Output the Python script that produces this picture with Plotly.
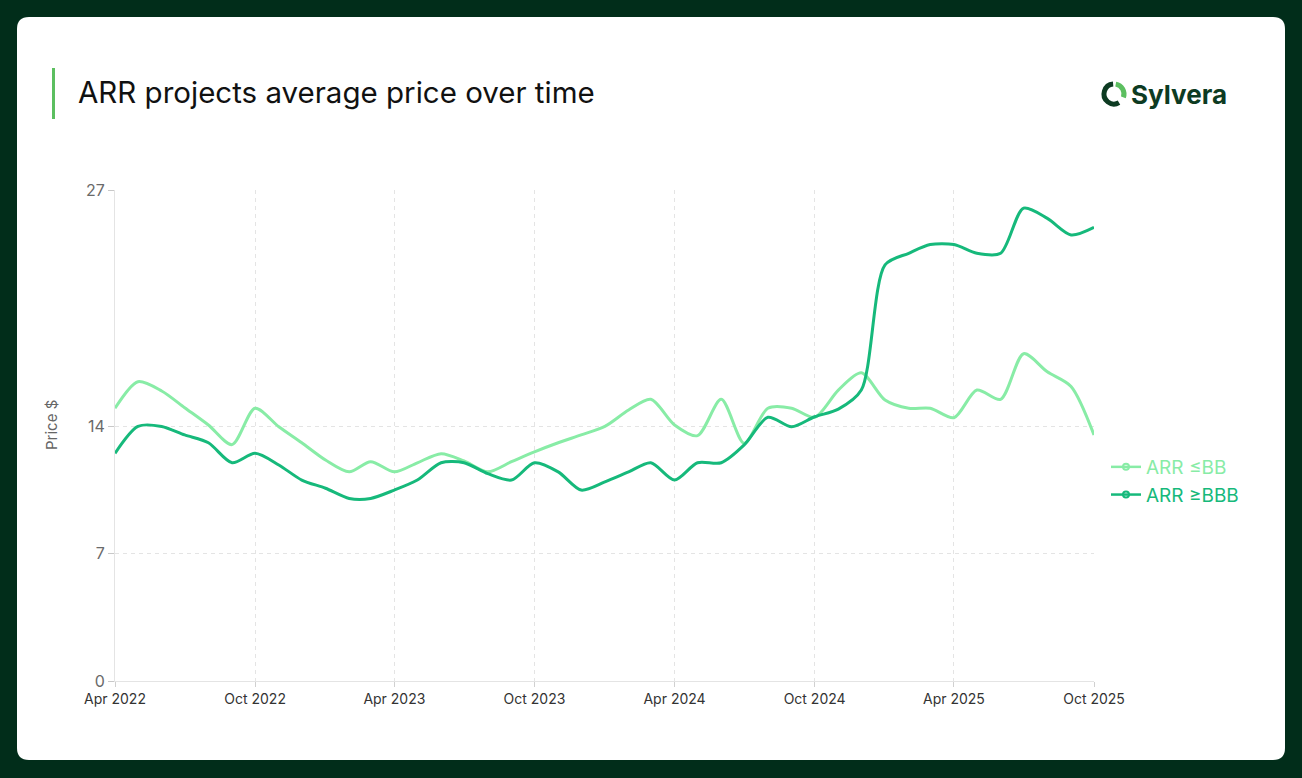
import math
import pandas as pd
import plotly.graph_objects as go

# ---------------- data ----------------
months = pd.date_range("2022-04-01", periods=43, freq="MS")

arr_bb = [15.0, 16.46, 15.95, 15.03, 14.08, 13.0, 15.0, 13.98, 13.1, 12.15,
          11.5, 12.06, 11.5, 12.0, 12.5, 12.1, 11.5, 12.06, 12.6, 13.1,
          13.53, 14.0, 14.9, 15.49, 14.08, 13.49, 15.49, 13.07, 15.0, 15.0,
          14.5, 16.0, 16.95, 15.45, 15.0, 15.0, 14.48, 16.0, 15.49, 18.0,
          17.0, 16.2, 13.53]

arr_bbb = [12.52, 14.0, 14.0, 13.53, 13.1, 12.0, 12.52, 11.88, 11.05, 10.6,
           10.04, 10.04, 10.5, 11.05, 12.0, 12.0, 11.4, 11.05, 12.0, 11.5,
           10.5, 10.95, 11.5, 12.0, 11.05, 12.0, 12.0, 12.98, 14.5, 13.98,
           14.53, 14.95, 16.0, 22.88, 23.52, 24.0, 24.0, 23.52, 23.52, 26.0,
           25.44, 24.53, 24.95]

series_names = ["ARR ≤BB", "ARR ≥BBB"]
series_colors = ["#88eca6", "#16b97b"]
y_ticks = [0, 7, 14, 27]

# ---------------- layout geometry ----------------
W, H = 1302, 778
L, R, T, B = 115, 1094, 190, 681
PW, PH = R - L, B - T


def px(x):
    return (x - L) / PW


def py(y):
    return (B - y) / PH


fig = go.Figure()

for name, vals, col in zip(series_names, [arr_bb, arr_bbb], series_colors):
    fig.add_trace(go.Scatter(
        x=months, y=vals, mode="lines", name=name, showlegend=False,
        line=dict(color=col, width=3, shape="spline", smoothing=0.8),
        hoverinfo="skip"))
    fig.add_trace(go.Scatter(
        x=[None], y=[None], mode="lines+markers",
        name=f'<span style="color:{col}">{name}</span>',
        line=dict(color=col, width=2.5),
        marker=dict(symbol="circle-open", size=6, color=col, line=dict(width=2))))

# ---------------- card background ----------------
cx0, cx1, cy0, cy1, rad = 17, 1285, 17, 760, 12
rx, ry = rad / PW, rad / PH
X0, X1, Y0, Y1 = px(cx0), px(cx1), py(cy1), py(cy0)
card_path = (f"M {X0+rx} {Y0} L {X1-rx} {Y0} Q {X1} {Y0} {X1} {Y0+ry} "
             f"L {X1} {Y1-ry} Q {X1} {Y1} {X1-rx} {Y1} "
             f"L {X0+rx} {Y1} Q {X0} {Y1} {X0} {Y1-ry} "
             f"L {X0} {Y0+ry} Q {X0} {Y0} {X0+rx} {Y0} Z")

shapes = [dict(type="path", xref="paper", yref="paper", path=card_path,
               fillcolor="white", line=dict(width=0), layer="below")]

# title accent bar
shapes.append(dict(type="line", xref="paper", yref="paper",
                   x0=px(53.5), x1=px(53.5), y0=py(68), y1=py(119),
                   line=dict(color="#5cbf60", width=3)))


# logo icon arcs (pixel coords, y pointing down)
def arc_path(r, a0, a1):
    a0r, a1r = math.radians(a0), math.radians(a1)
    n = max(1, int(math.ceil(abs(a1 - a0) / 90)))
    step = (a1r - a0r) / n
    k = 4 / 3 * math.tan(step / 4)
    p = f"M {r*math.cos(a0r):.3f} {r*math.sin(a0r):.3f}"
    a = a0r
    for _ in range(n):
        b = a + step
        c1 = (r*math.cos(a) - k*r*math.sin(a), r*math.sin(a) + k*r*math.cos(a))
        c2 = (r*math.cos(b) + k*r*math.sin(b), r*math.sin(b) - k*r*math.cos(b))
        p += (f" C {c1[0]:.3f} {c1[1]:.3f} {c2[0]:.3f} {c2[1]:.3f} "
              f"{r*math.cos(b):.3f} {r*math.sin(b):.3f}")
        a = b
    return p


icon_cx, icon_cy = 1114, 94
for a0, a1, col in [(-60, -265, "#0d3b22"), (-20, 80, "#5cbf60")]:
    shapes.append(dict(type="path", xref="paper", yref="paper",
                       xsizemode="pixel", ysizemode="pixel",
                       xanchor=px(icon_cx), yanchor=py(icon_cy),
                       path=arc_path(10, a0, a1),
                       line=dict(color=col, width=5)))

annotations = [
    dict(text="ARR projects average price over time", x=px(76), y=py(92),
         xref="paper", yref="paper", xanchor="left", yanchor="middle",
         showarrow=False, font=dict(family="Inter", size=29.5, color="#111111")),
    dict(text="<b>Sylvera</b>", x=px(1129), y=py(94),
         xref="paper", yref="paper", xanchor="left", yanchor="middle",
         showarrow=False, font=dict(family="Inter", size=26, color="#0d3b22")),
    dict(text="Price $", x=px(51), y=py(425), xref="paper", yref="paper",
         xanchor="center", yanchor="middle", textangle=-90, showarrow=False,
         font=dict(family="Inter", size=15, color="#666666")),
]

fig.update_layout(
    width=W, height=H,
    margin=dict(l=L, r=W - R, t=T, b=H - B, autoexpand=False),
    paper_bgcolor="#012d1a", plot_bgcolor="rgba(0,0,0,0)",
    font=dict(family="Inter", color="#333333"),
    shapes=shapes, annotations=annotations,
    legend=dict(x=px(1106), y=py(481), xanchor="left", yanchor="middle",
                bgcolor="rgba(0,0,0,0)", font=dict(size=19),
                itemwidth=30, tracegroupgap=4),
    xaxis=dict(
        range=[months[0], months[-1]], tick0="2022-04-01", dtick="M6",
        tickformat="%b %Y", showgrid=True, gridcolor="#e4e4e4",
        griddash="4px,4px", gridwidth=1, showline=True, linecolor="#e4e4e4",
        ticks="outside", ticklen=5, tickcolor="#d0d0d0",
        tickfont=dict(size=14, color="#333333"), zeroline=False),
    yaxis=dict(
        range=[0, 27], tickvals=y_ticks, showgrid=True, gridcolor="#e4e4e4",
        griddash="4px,4px", showline=True, linecolor="#e4e4e4",
        ticks="outside", ticklen=6, tickcolor="#c8c8c8",
        tickfont=dict(size=16, color="#6a6a6a"), zeroline=False),
)

fig.write_html("out.html", config={"displayModeBar": False},
               post_script="document.body.style.margin='0';")
